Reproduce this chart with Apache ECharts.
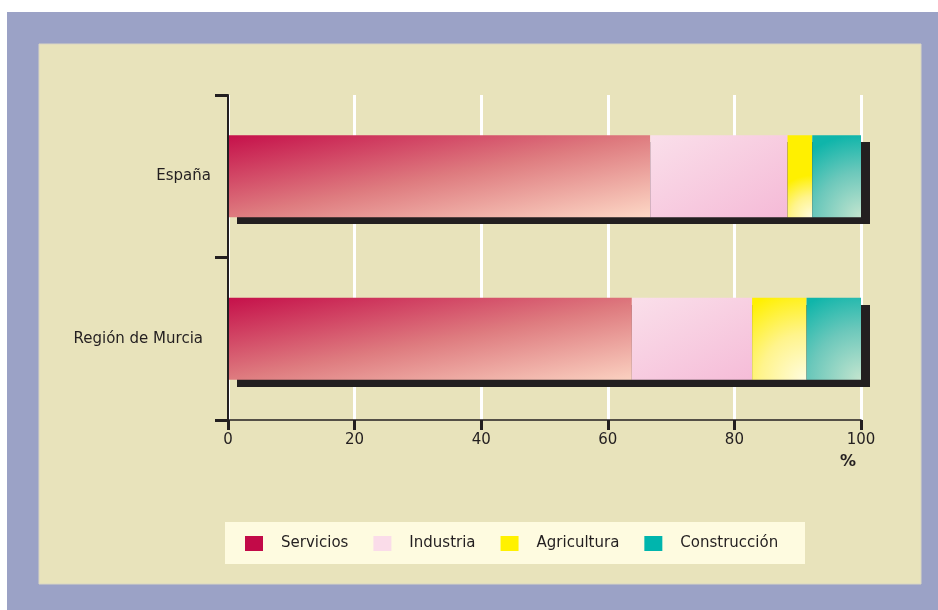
<!DOCTYPE html>
<html>
<head>
<meta charset="utf-8">
<script src="https://cdn.jsdelivr.net/npm/echarts@6/dist/echarts.min.js"></script>
<style>html,body{margin:0;padding:0;background:#fff}#c{width:938px;height:610px}</style>
</head>
<body>
<div id="c"></div>
<script>
const categories = ['España', 'Región de Murcia'];
const seriesNames = ['Servicios', 'Industria', 'Agricultura', 'Construcción'];
const servicios = [66.7, 63.8];
const industria = [21.7, 19.0];
const agricultura = [3.9, 8.6];
const construccion = [7.7, 8.6];
const xTicks = { min: 0, max: 100, interval: 20 };
const axisName = '%';

const legendColors = ['#c20a48', '#fadce9', '#fff100', '#00b5ad'];
const fills = [
  { type: 'linear', x: 0, y: 0, x2: 0.073, y2: 1.93, colorStops: [
    { offset: 0, color: '#c5104a' }, { offset: 0.5, color: '#de7b7f' }, { offset: 1, color: '#fdd8c6' }] },
  { type: 'linear', x: 0, y: 0, x2: 0.53, y2: 1.47, colorStops: [
    { offset: 0, color: '#fadfea' }, { offset: 1, color: '#f5bad7' }] },
  { type: 'radial', x: 1, y: 1, r: 1.7, colorStops: [
    { offset: 0, color: '#fffce0' }, { offset: 0.5, color: '#fff48c' }, { offset: 1, color: '#fff000' }] },
  { type: 'radial', x: 1, y: 1, r: 1.7, colorStops: [
    { offset: 0, color: '#c4e5cf' }, { offset: 0.55, color: '#6cc8bb' }, { offset: 1, color: '#0fb5aa' }] }
];
const values = [servicios, industria, agricultura, construccion];
const totals = categories.map((c, j) => values.reduce((s, arr) => s + arr[j], 0));

const txt = '#231f20';
const font = 'DejaVu Sans';
const BAR = 82;

const chart = echarts.init(document.getElementById('c'), null, { renderer: 'canvas' });
chart.setOption({
  animation: false,
  backgroundColor: '#ffffff',
  graphic: [
    { type: 'rect', z: -100, shape: { x: 7, y: 12, width: 931, height: 598 }, style: { fill: '#9ba2c6' } },
    { type: 'rect', z: -99, shape: { x: 39, y: 44, width: 882, height: 540 }, style: { fill: '#e8e3bb', stroke: '#d9d6c4', lineWidth: 1 } },
    { type: 'rect', z: -98, shape: { x: 225, y: 522, width: 580, height: 42 }, style: { fill: '#fefbe0' } }
  ],
  grid: { left: 228, right: 77, top: 95, bottom: 190, containLabel: false },
  legend: {
    left: 245, top: 536, padding: 0, itemGap: 25,
    itemWidth: 18, itemHeight: 15, icon: 'rect',
    itemStyle: { shadowBlur: 0, shadowOffsetX: 0, shadowOffsetY: 0, shadowColor: 'rgba(0,0,0,0)', borderWidth: 0 },
    textStyle: { fontFamily: font, fontSize: 15, color: txt, padding: [0, 0, 0, 13] },
    data: seriesNames.map((n, i) => ({ name: n, itemStyle: { color: legendColors[i] } }))
  },
  xAxis: {
    type: 'value', min: xTicks.min, max: xTicks.max, interval: xTicks.interval,
    name: axisName, nameLocation: 'end', nameGap: -13,
    nameTextStyle: { fontFamily: font, fontSize: 16, fontWeight: 'bold', color: txt, align: 'center', verticalAlign: 'top', padding: [34, 0, 0, 0] },
    axisLine: { show: true, lineStyle: { color: txt, width: 1.5 } },
    axisTick: { show: true, length: 10, lineStyle: { color: txt, width: 3 } },
    axisLabel: { fontFamily: font, fontSize: 15, color: txt, margin: 13 },
    splitLine: { show: true, lineStyle: { color: '#ffffff', width: 3 } }
  },
  yAxis: {
    type: 'category', data: categories, inverse: true, z: 5,
    axisLine: { show: true, lineStyle: { color: txt, width: 2 } },
    axisTick: { show: true, length: 13, lineStyle: { color: txt, width: 3 } },
    axisLabel: {
      fontFamily: font, fontSize: 15, color: txt, margin: 17,
      formatter: v => v === categories[1] ? '{b|' + v + '}' : '{a|' + v + '}',
      rich: { a: { fontFamily: font, fontSize: 15, color: txt }, b: { fontFamily: font, fontSize: 15, color: txt, padding: [0, 8, 0, 0] } }
    },
    splitLine: { show: false }
  },
  series: [{
    name: 'sombra', type: 'custom', z: 1, silent: true,
    data: totals.map((t, j) => [t, j]),
    encode: { x: 0, y: 1 },
    renderItem: (params, api) => {
      const p0 = api.coord([0, api.value(1)]);
      const p1 = api.coord([api.value(0), api.value(1)]);
      return {
        type: 'rect',
        shape: { x: Math.round(p0[0]) + 9, y: Math.round(p0[1] - BAR / 2) + 7, width: Math.round(p1[0] - p0[0]), height: BAR },
        style: { fill: '#231f20' }
      };
    }
  }].concat(seriesNames.map((n, i) => ({
    name: n, type: 'bar', stack: 'total', barWidth: BAR, z: 2,
    data: values[i],
    itemStyle: { color: fills[i] },
    emphasis: { disabled: true }
  })))
});
</script>
</body>
</html>
